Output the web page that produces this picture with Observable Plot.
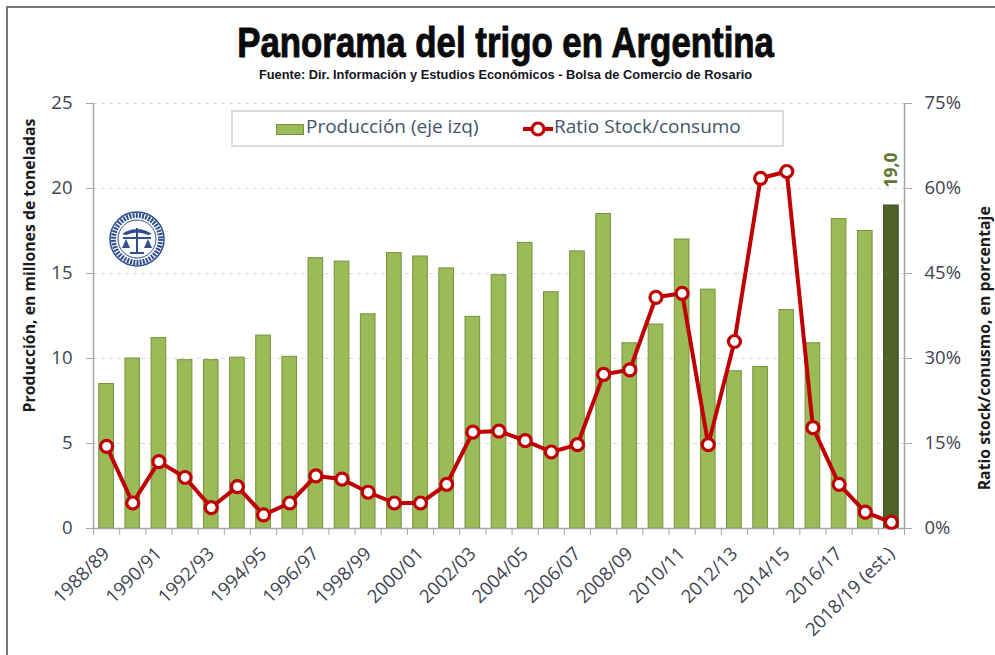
<!DOCTYPE html>
<html><head><meta charset="utf-8">
<script src="https://cdn.jsdelivr.net/npm/d3@7"></script>
<script src="https://cdn.jsdelivr.net/npm/@observablehq/plot@0.6"></script>
<style>
html,body{margin:0;padding:0;background:#fff;width:995px;height:655px;overflow:hidden}
#wrap{position:relative;width:995px;height:655px}
#head{height:96px}
.abs{position:absolute}
#title{left:0;top:17px;width:1011px;text-align:center;font:bold 43px "Liberation Sans",sans-serif;color:#0b0b0b;-webkit-text-stroke:1px #0b0b0b;white-space:nowrap;line-height:50px;transform:scaleX(0.81);transform-origin:506px 0}
#sub{left:0;top:67px;width:1011px;text-align:center;font:bold 12.4px "Liberation Sans",sans-serif;color:#14141e;white-space:nowrap;line-height:16px;transform:scaleX(1.035);transform-origin:506px 0}
#legend{left:231px;top:110px;width:549px;height:33px;border:2px solid #dcdcdc;background:#fff;font:19px "Open Sans",sans-serif;color:#44546a}
#legend span,#legend svg{position:absolute}
svg{display:block}
.fr{background:#777}
</style></head><body>
<div id="wrap">
<div class="abs fr" style="left:6px;top:6px;width:2px;height:649px"></div>
<div class="abs fr" style="left:6px;top:6px;width:989px;height:1.5px"></div>
<div id="head"></div>
<div id="chart"></div>
<div class="abs" id="title">Panorama del trigo en Argentina</div>
<div class="abs" id="sub">Fuente: Dir. Información y Estudios Económicos - Bolsa de Comercio de Rosario</div>
<div class="abs" id="legend">
 <svg style="left:43px;top:12px" width="28" height="11"><rect x="0.5" y="0.5" width="27" height="10" fill="#9BBB59" stroke="#76923C"/></svg>
 <span style="left:73px;top:1px">Producción (eje izq)</span>
 <svg style="left:289px;top:7px" width="32" height="20"><line x1="1" x2="31" y1="10" y2="10" stroke="#C00000" stroke-width="4"/><circle cx="16" cy="10" r="6" fill="#fff" stroke="#C00000" stroke-width="3.2"/></svg>
 <span style="left:321px;top:1px">Ratio Stock/consumo</span>
</div>
<svg class="abs" style="left:108px;top:210px" width="58" height="58" viewBox="0 0 58 58">
 <circle cx="29" cy="29" r="27" fill="#fff" stroke="#2f4f8f" stroke-width="1.5"/>
 <circle cx="29" cy="29" r="23.5" fill="none" stroke="#2f4f8f" stroke-width="5" stroke-dasharray="2 1.2"/>
 <circle cx="29" cy="29" r="19" fill="#fff" stroke="#2f4f8f" stroke-width="1"/>
 <path d="M14 24 Q29 14 44 24 L40 25 Q29 20 18 25Z M28 18h2v24h-2z M15 27h28v2H15z M18 29l-4 9h8z M40 29l-4 9h8z M22 42h14v2H22z" fill="#2f4f8f"/>
</svg>
</div>
<script>
const seasons = ["1988/89","1989/90","1990/91","1991/92","1992/93","1993/94","1994/95","1995/96","1996/97","1997/98","1998/99","1999/00","2000/01","2001/02","2002/03","2003/04","2004/05","2005/06","2006/07","2007/08","2008/09","2009/10","2010/11","2011/12","2012/13","2013/14","2014/15","2015/16","2016/17","2017/18","2018/19 (est.)"];
const production = [8.5,10,11.2,9.9,9.9,10.05,11.35,10.1,15.9,15.7,12.6,16.2,16.0,15.3,12.45,14.9,16.8,13.9,16.3,18.5,10.9,12.0,17.0,14.05,9.25,9.5,12.85,10.9,18.2,17.5,19.0];
const ratio = [14.5,4.5,11.8,9,3.7,7.4,2.4,4.5,9.3,8.7,6.4,4.5,4.5,7.8,17,17.2,15.5,13.5,14.8,27.2,28,40.8,41.5,14.8,33,61.8,63,17.8,7.8,2.9,1.1];
const leftTicks = [0,5,10,15,20,25];
const labelled = seasons.filter((d,i)=>i%2===0);
const rows = seasons.map((s,i)=>({season:s,production:production[i],ratio:ratio[i]}));
const W=995,H=559,mL=93,mR=91;
const half=(W-mL-mR)/seasons.length/2;
const AX="#a6a6a6", TXT="#3f4452";
const last=rows[rows.length-1];

const plot = Plot.plot({
  width:W,height:H,marginLeft:mL,marginRight:mR,marginTop:7,marginBottom:127,
  style:{background:"transparent",fontFamily:"'Open Sans',sans-serif",overflow:"visible"},
  x:{type:"band",domain:seasons,paddingInner:0.44,paddingOuter:0.22,round:false,label:null},
  y:{domain:[0,25],label:null},
  marks:[
    Plot.ruleY(leftTicks.slice(1),{stroke:"#d9d9d9",strokeDasharray:"4 4",strokeWidth:1}),
    Plot.barY(rows,{x:"season",y:"production",fill:d=>d===last?"#4F6228":"#9BBB59",stroke:d=>d===last?"#3f4f20":"#76923C",strokeWidth:1}),
    Plot.ruleX([0],{x:()=>seasons[0],y1:0,y2:25,dx:-half,stroke:AX,strokeWidth:1.5}),
    Plot.ruleX([0],{x:()=>seasons[seasons.length-1],y1:0,y2:25,dx:half,stroke:AX,strokeWidth:1.5}),
    Plot.ruleY([0],{stroke:AX,strokeWidth:1.5}),
    Plot.axisY(leftTicks,{anchor:"left",tickSize:7,tickPadding:14,stroke:AX,fontSize:18.5,fill:TXT,label:null}),
    Plot.axisY(leftTicks,{anchor:"right",tickSize:7,tickPadding:13,stroke:AX,fontSize:18.5,fill:TXT,label:null,tickFormat:d=>(d*3)+"%"}),
    Plot.axisX(seasons,{tickSize:7,dx:-half,stroke:AX,tickFormat:()=>"",label:null}),
    Plot.axisX([seasons[seasons.length-1]],{tickSize:7,dx:half,stroke:AX,tickFormat:()=>"",label:null}),
    Plot.axisX(labelled,{tickSize:0,tickPadding:22,tickRotate:-45,fontSize:18.5,fill:TXT,label:null}),
    Plot.line(rows,{x:"season",y:d=>d.ratio/3,stroke:"#C00000",strokeWidth:4,curve:"linear"}),
    Plot.dot(rows,{x:"season",y:d=>d.ratio/3,r:6,fill:"#fff",stroke:"#C00000",strokeWidth:3.2}),
    Plot.text([last],{x:"season",y:"production",text:d=>d.production.toFixed(1).replace(".",","),rotate:-90,textAnchor:"start",dy:-18,fontSize:17.5,fontWeight:700,fill:"#5f7530"}),
    Plot.text(["Producción, en millones de toneladas"],{frameAnchor:"left",textAnchor:"middle",y:[15.47],dx:-64,rotate:-90,fontSize:15.8,fontWeight:700,fill:"#1a1a1a"}),
    Plot.text(["Ratio stock/conusmo, en porcentaje"],{frameAnchor:"right",textAnchor:"middle",y:[10.6],dx:80,rotate:-90,fontSize:15.8,fontWeight:700,fill:"#1a1a1a"})
  ]
});
document.getElementById("chart").appendChild(plot);
</script>
</body></html>
